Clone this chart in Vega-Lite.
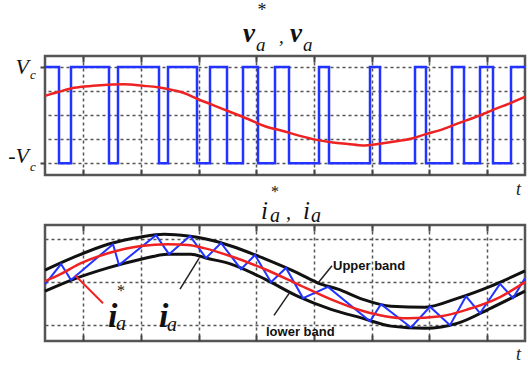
{
  "$schema": "https://vega.github.io/schema/vega-lite/v6.json",
  "background": "white",
  "padding": {"left": 6, "top": 0, "right": 0, "bottom": 0},
  "bounds": "flush",
  "spacing": 50,
  "config": {
    "view": {"stroke": "#555555", "strokeWidth": 2.5}
  },
  "datasets": {
    "pwm": [
      {"t": 0, "v": 1}, {"t": 14, "v": -1}, {"t": 26, "v": 1}, {"t": 64, "v": -1},
      {"t": 73, "v": 1}, {"t": 114, "v": -1}, {"t": 123, "v": 1}, {"t": 152, "v": -1},
      {"t": 165, "v": 1}, {"t": 182, "v": -1}, {"t": 198, "v": 1}, {"t": 213, "v": -1},
      {"t": 230, "v": 1}, {"t": 244, "v": -1}, {"t": 274, "v": 1}, {"t": 284, "v": -1},
      {"t": 325, "v": 1}, {"t": 335, "v": -1}, {"t": 370, "v": 1}, {"t": 381, "v": -1},
      {"t": 407, "v": 1}, {"t": 419, "v": -1}, {"t": 435, "v": 1}, {"t": 448, "v": -1},
      {"t": 466, "v": 1}, {"t": 480, "v": 1}
    ],
    "vref": [
      {"t": 0, "v": 0.40}, {"t": 13, "v": 0.48}, {"t": 29, "v": 0.57}, {"t": 48, "v": 0.61},
      {"t": 63, "v": 0.63}, {"t": 79, "v": 0.64}, {"t": 98, "v": 0.61}, {"t": 113, "v": 0.58},
      {"t": 128, "v": 0.52}, {"t": 139, "v": 0.46}, {"t": 153, "v": 0.33}, {"t": 168, "v": 0.21},
      {"t": 186, "v": 0.06}, {"t": 203, "v": -0.08}, {"t": 220, "v": -0.23}, {"t": 238, "v": -0.33},
      {"t": 253, "v": -0.42}, {"t": 273, "v": -0.52}, {"t": 288, "v": -0.57}, {"t": 303, "v": -0.60},
      {"t": 318, "v": -0.63}, {"t": 333, "v": -0.60}, {"t": 353, "v": -0.54}, {"t": 368, "v": -0.48},
      {"t": 380, "v": -0.40}, {"t": 398, "v": -0.29}, {"t": 413, "v": -0.17}, {"t": 428, "v": -0.06},
      {"t": 440, "v": 0.04}, {"t": 453, "v": 0.15}, {"t": 463, "v": 0.23}, {"t": 480, "v": 0.38}
    ],
    "iref": [
      {"t": 0, "i": 0.02}, {"t": 16, "i": 0.19}, {"t": 36, "i": 0.44}, {"t": 63, "i": 0.67},
      {"t": 96, "i": 0.84}, {"t": 123, "i": 0.88}, {"t": 143, "i": 0.86}, {"t": 159, "i": 0.79},
      {"t": 186, "i": 0.60}, {"t": 220, "i": 0.30}, {"t": 253, "i": -0.05}, {"t": 286, "i": -0.40},
      {"t": 318, "i": -0.67}, {"t": 340, "i": -0.79}, {"t": 363, "i": -0.84}, {"t": 396, "i": -0.79},
      {"t": 423, "i": -0.63}, {"t": 453, "i": -0.37}, {"t": 480, "i": 0.00}
    ],
    "upper": [
      {"t": 0, "i": 0.28}, {"t": 29, "i": 0.58}, {"t": 63, "i": 0.88}, {"t": 96, "i": 1.05},
      {"t": 119, "i": 1.11}, {"t": 143, "i": 1.07}, {"t": 161, "i": 1.00}, {"t": 186, "i": 0.84},
      {"t": 220, "i": 0.54}, {"t": 253, "i": 0.21}, {"t": 273, "i": -0.02}, {"t": 293, "i": -0.16},
      {"t": 318, "i": -0.40}, {"t": 346, "i": -0.56}, {"t": 380, "i": -0.58}, {"t": 413, "i": -0.37},
      {"t": 446, "i": -0.09}, {"t": 480, "i": 0.26}
    ],
    "lower": [
      {"t": 0, "i": -0.21}, {"t": 29, "i": 0.07}, {"t": 63, "i": 0.33}, {"t": 96, "i": 0.53},
      {"t": 123, "i": 0.65}, {"t": 146, "i": 0.65}, {"t": 161, "i": 0.56}, {"t": 186, "i": 0.42},
      {"t": 220, "i": 0.07}, {"t": 253, "i": -0.33}, {"t": 286, "i": -0.63}, {"t": 318, "i": -0.84},
      {"t": 346, "i": -1.02}, {"t": 380, "i": -1.07}, {"t": 413, "i": -0.95}, {"t": 446, "i": -0.60},
      {"t": 480, "i": -0.21}
    ],
    "ia": [
      {"t": 0, "i": -0.05}, {"t": 16, "i": 0.42}, {"t": 26, "i": 0.05}, {"t": 68, "i": 0.88},
      {"t": 74, "i": 0.40}, {"t": 111, "i": 1.09}, {"t": 124, "i": 0.65}, {"t": 145, "i": 1.07},
      {"t": 161, "i": 0.56}, {"t": 176, "i": 0.91}, {"t": 196, "i": 0.30}, {"t": 210, "i": 0.63},
      {"t": 226, "i": 0.0}, {"t": 241, "i": 0.33}, {"t": 258, "i": -0.37}, {"t": 283, "i": -0.11},
      {"t": 325, "i": -0.91}, {"t": 336, "i": -0.51}, {"t": 366, "i": -1.05}, {"t": 385, "i": -0.57},
      {"t": 405, "i": -1.0}, {"t": 421, "i": -0.33}, {"t": 435, "i": -0.72}, {"t": 455, "i": -0.04},
      {"t": 468, "i": -0.37}, {"t": 480, "i": 0.09}
    ]
  },
  "vconcat": [
    {
      "width": 480,
      "height": 119,
      "resolve": {"axis": {"x": "independent", "y": "independent"}},
      "layer": [
        {
          "data": {"name": "pwm"},
          "mark": {"type": "line", "interpolate": "step-after", "color": "#2233ff", "strokeWidth": 2.5},
          "encoding": {
            "x": {"field": "t", "type": "quantitative", "scale": {"domain": [0, 480], "nice": false, "zero": false},
              "axis": {"orient": "bottom", "values": [38, 96, 154, 211, 269, 327, 384, 442], "grid": true,
                "gridDash": [3, 3], "gridColor": "#555555", "gridWidth": 1.5, "gridOpacity": 1,
                "ticks": true, "tickSize": -6, "tickWidth": 2, "tickColor": "#444444",
                "labels": false, "domain": false, "title": "t", "titleFont": "Liberation Serif",
                "titleFontStyle": "italic", "titleFontWeight": "normal", "titleFontSize": 18, "titleColor": "#222222",
                "titleX": 473, "titleY": 19, "titleBaseline": "alphabetic", "titleAlign": "center", "titleAngle": 0}},
            "y": {"field": "v", "type": "quantitative", "scale": {"domain": [-1.245, 1.23], "nice": false, "zero": false},
              "axis": {"orient": "left", "values": [1, -1], "grid": false, "labels": false, "domain": false,
                "ticks": true, "tickSize": 5, "tickWidth": 2, "tickColor": "#444444", "title": null}}
          }
        },
        {
          "data": {"name": "vref"},
          "mark": {"type": "line", "interpolate": "monotone", "color": "#ee2222", "strokeWidth": 2.5},
          "encoding": {
            "x": {"field": "t", "type": "quantitative", "scale": {"domain": [0, 480], "nice": false, "zero": false},
              "axis": {"orient": "top", "values": [38, 96, 154, 211, 269, 327, 384, 442], "grid": false,
                "ticks": true, "tickSize": -6, "tickWidth": 2, "tickColor": "#444444",
                "labels": false, "domain": false, "title": null}},
            "y": {"field": "v", "type": "quantitative", "scale": {"domain": [-1.245, 1.23], "nice": false, "zero": false},
              "axis": {"orient": "right", "values": [1, 0.5, 0, -0.5, -1], "grid": true, "gridDash": [3, 3],
                "gridColor": "#555555", "gridWidth": 1.5, "gridOpacity": 1, "ticks": false, "labels": false,
                "domain": false, "title": null}}
          }
        },
        {
          "data": {"values": [{"x": 198, "y": 1.52, "s": "v"}, {"x": 245, "y": 1.52, "s": "v"}]},
          "mark": {"type": "text", "font": "Liberation Serif", "color": "#111111", "fontStyle": "italic", "fontWeight": "bold", "fontSize": 27, "align": "left", "baseline": "alphabetic"},
          "encoding": {
            "x": {"field": "x", "type": "quantitative", "scale": {"domain": [0, 480], "nice": false, "zero": false}, "axis": null},
            "y": {"field": "y", "type": "quantitative", "scale": {"domain": [-1.245, 1.23], "nice": false, "zero": false}, "axis": null},
            "text": {"field": "s"}
          }
        },
        {
          "data": {"values": [{"x": 211, "y": 1.33, "s": "a"}, {"x": 258, "y": 1.33, "s": "a"}, {"x": 234, "y": 1.5, "s": ","}]},
          "mark": {"type": "text", "font": "Liberation Serif", "color": "#111111", "fontStyle": "italic", "fontSize": 19, "align": "left", "baseline": "alphabetic"},
          "encoding": {
            "x": {"field": "x", "type": "quantitative", "scale": {"domain": [0, 480], "nice": false, "zero": false}, "axis": null},
            "y": {"field": "y", "type": "quantitative", "scale": {"domain": [-1.245, 1.23], "nice": false, "zero": false}, "axis": null},
            "text": {"field": "s"}
          }
        },
        {
          "data": {"values": [{"x": 217, "y": 2.17, "s": "*"}]},
          "mark": {"type": "text", "font": "Liberation Serif", "color": "#111111", "fontSize": 18, "align": "center", "baseline": "middle"},
          "encoding": {
            "x": {"field": "x", "type": "quantitative", "scale": {"domain": [0, 480], "nice": false, "zero": false}, "axis": null},
            "y": {"field": "y", "type": "quantitative", "scale": {"domain": [-1.245, 1.23], "nice": false, "zero": false}, "axis": null},
            "text": {"field": "s"}
          }
        },
        {
          "data": {"values": [{"x": -16, "y": 1.0, "s": "V"}, {"x": -16, "y": -0.84, "s": "-V"}]},
          "mark": {"type": "text", "font": "Liberation Serif", "color": "#111111", "fontStyle": "italic", "fontSize": 22, "align": "right", "baseline": "middle"},
          "encoding": {
            "x": {"field": "x", "type": "quantitative", "scale": {"domain": [0, 480], "nice": false, "zero": false}, "axis": null},
            "y": {"field": "y", "type": "quantitative", "scale": {"domain": [-1.245, 1.23], "nice": false, "zero": false}, "axis": null},
            "text": {"field": "s"}
          }
        },
        {
          "data": {"values": [{"x": -15, "y": 0.84, "s": "c"}, {"x": -15, "y": -1.08, "s": "c"}]},
          "mark": {"type": "text", "font": "Liberation Serif", "color": "#111111", "fontStyle": "italic", "fontSize": 13, "align": "left", "baseline": "middle"},
          "encoding": {
            "x": {"field": "x", "type": "quantitative", "scale": {"domain": [0, 480], "nice": false, "zero": false}, "axis": null},
            "y": {"field": "y", "type": "quantitative", "scale": {"domain": [-1.245, 1.23], "nice": false, "zero": false}, "axis": null},
            "text": {"field": "s"}
          }
        }
      ]
    },
    {
      "width": 480,
      "height": 116,
      "resolve": {"axis": {"x": "independent", "y": "independent"}},
      "layer": [
        {
          "data": {"name": "upper"},
          "mark": {"type": "line", "interpolate": "monotone", "color": "#111111", "strokeWidth": 3},
          "encoding": {
            "x": {"field": "t", "type": "quantitative", "scale": {"domain": [0, 480], "nice": false, "zero": false},
              "axis": {"orient": "bottom", "values": [38, 96, 154, 211, 269, 327, 384, 442], "grid": true,
                "gridDash": [3, 3], "gridColor": "#555555", "gridWidth": 1.5, "gridOpacity": 1,
                "ticks": true, "tickSize": -6, "tickWidth": 2, "tickColor": "#444444",
                "labels": false, "domain": false, "title": "t", "titleFont": "Liberation Serif",
                "titleFontStyle": "italic", "titleFontWeight": "normal", "titleFontSize": 18, "titleColor": "#222222",
                "titleX": 473, "titleY": 18, "titleBaseline": "alphabetic", "titleAlign": "center", "titleAngle": 0}},
            "y": {"field": "i", "type": "quantitative", "scale": {"domain": [-1.365, 1.326], "nice": false, "zero": false},
              "axis": {"orient": "left", "values": [1, 0, -1], "grid": true, "gridDash": [3, 3],
                "gridColor": "#555555", "gridWidth": 1.5, "gridOpacity": 1, "ticks": false, "labels": false,
                "domain": false, "title": null}}
          }
        },
        {
          "data": {"name": "lower"},
          "mark": {"type": "line", "interpolate": "monotone", "color": "#111111", "strokeWidth": 3},
          "encoding": {
            "x": {"field": "t", "type": "quantitative", "scale": {"domain": [0, 480], "nice": false, "zero": false},
              "axis": {"orient": "top", "values": [38, 96, 154, 211, 269, 327, 384, 442], "grid": false,
                "ticks": true, "tickSize": -6, "tickWidth": 2, "tickColor": "#444444",
                "labels": false, "domain": false, "title": null}},
            "y": {"field": "i", "type": "quantitative", "scale": {"domain": [-1.365, 1.326], "nice": false, "zero": false}, "axis": null}
          }
        },
        {
          "data": {"name": "ia"},
          "mark": {"type": "line", "interpolate": "linear", "color": "#2233ff", "strokeWidth": 2},
          "encoding": {
            "x": {"field": "t", "type": "quantitative", "scale": {"domain": [0, 480], "nice": false, "zero": false}, "axis": null},
            "y": {"field": "i", "type": "quantitative", "scale": {"domain": [-1.365, 1.326], "nice": false, "zero": false}, "axis": null}
          }
        },
        {
          "data": {"name": "iref"},
          "mark": {"type": "line", "interpolate": "monotone", "color": "#ee2222", "strokeWidth": 2.5},
          "encoding": {
            "x": {"field": "t", "type": "quantitative", "scale": {"domain": [0, 480], "nice": false, "zero": false}, "axis": null},
            "y": {"field": "i", "type": "quantitative", "scale": {"domain": [-1.365, 1.326], "nice": false, "zero": false}, "axis": null}
          }
        },
        {
          "data": {"values": [{"x": 273, "y": -0.02, "x2": 287, "y2": 0.38}, {"x": 229, "y": -0.77, "x2": 245, "y2": -0.23}, {"x": 135, "y": -0.16, "x2": 154, "y2": 0.55}]},
          "mark": {"type": "rule", "color": "#222222", "strokeWidth": 1.5},
          "encoding": {
            "x": {"field": "x", "type": "quantitative", "scale": {"domain": [0, 480], "nice": false, "zero": false}, "axis": null},
            "y": {"field": "y", "type": "quantitative", "scale": {"domain": [-1.365, 1.326], "nice": false, "zero": false}, "axis": null},
            "x2": {"field": "x2"},
            "y2": {"field": "y2"}
          }
        },
        {
          "data": {"values": [{"x": 58, "y": -0.49, "x2": 30, "y2": 0.16}]},
          "mark": {"type": "rule", "color": "#ee2222", "strokeWidth": 2},
          "encoding": {
            "x": {"field": "x", "type": "quantitative", "scale": {"domain": [0, 480], "nice": false, "zero": false}, "axis": null},
            "y": {"field": "y", "type": "quantitative", "scale": {"domain": [-1.365, 1.326], "nice": false, "zero": false}, "axis": null},
            "x2": {"field": "x2"},
            "y2": {"field": "y2"}
          }
        },
        {
          "data": {"values": [{"x": 288, "y": 0.37, "s": "Upper band"}, {"x": 221, "y": -1.16, "s": "lower band"}]},
          "mark": {"type": "text", "font": "Liberation Sans", "color": "#111111", "fontWeight": "bold", "fontSize": 13, "align": "left", "baseline": "middle"},
          "encoding": {
            "x": {"field": "x", "type": "quantitative", "scale": {"domain": [0, 480], "nice": false, "zero": false}, "axis": null},
            "y": {"field": "y", "type": "quantitative", "scale": {"domain": [-1.365, 1.326], "nice": false, "zero": false}, "axis": null},
            "text": {"field": "s"}
          }
        },
        {
          "data": {"values": [{"x": 216, "y": 1.465, "s": "i"}, {"x": 258, "y": 1.465, "s": "i"}]},
          "mark": {"type": "text", "font": "Liberation Serif", "color": "#111111", "fontStyle": "italic", "fontSize": 25, "align": "left", "baseline": "alphabetic"},
          "encoding": {
            "x": {"field": "x", "type": "quantitative", "scale": {"domain": [0, 480], "nice": false, "zero": false}, "axis": null},
            "y": {"field": "y", "type": "quantitative", "scale": {"domain": [-1.365, 1.326], "nice": false, "zero": false}, "axis": null},
            "text": {"field": "s"}
          }
        },
        {
          "data": {"values": [{"x": 225, "y": 1.39, "s": "a"}, {"x": 266, "y": 1.39, "s": "a"}, {"x": 241, "y": 1.465, "s": ","}]},
          "mark": {"type": "text", "font": "Liberation Serif", "color": "#111111", "fontStyle": "italic", "fontSize": 20, "align": "left", "baseline": "alphabetic"},
          "encoding": {
            "x": {"field": "x", "type": "quantitative", "scale": {"domain": [0, 480], "nice": false, "zero": false}, "axis": null},
            "y": {"field": "y", "type": "quantitative", "scale": {"domain": [-1.365, 1.326], "nice": false, "zero": false}, "axis": null},
            "text": {"field": "s"}
          }
        },
        {
          "data": {"values": [{"x": 230, "y": 2.1, "s": "*"}, {"x": 76, "y": -0.2, "s": "*"}]},
          "mark": {"type": "text", "font": "Liberation Serif", "color": "#111111", "fontSize": 16, "align": "center", "baseline": "middle"},
          "encoding": {
            "x": {"field": "x", "type": "quantitative", "scale": {"domain": [0, 480], "nice": false, "zero": false}, "axis": null},
            "y": {"field": "y", "type": "quantitative", "scale": {"domain": [-1.365, 1.326], "nice": false, "zero": false}, "axis": null},
            "text": {"field": "s"}
          }
        },
        {
          "data": {"values": [{"x": 63, "y": -1.047, "s": "i"}, {"x": 114, "y": -1.047, "s": "i"}]},
          "mark": {"type": "text", "font": "Liberation Serif", "color": "#111111", "fontStyle": "italic", "fontWeight": "bold", "fontSize": 34, "align": "left", "baseline": "alphabetic"},
          "encoding": {
            "x": {"field": "x", "type": "quantitative", "scale": {"domain": [0, 480], "nice": false, "zero": false}, "axis": null},
            "y": {"field": "y", "type": "quantitative", "scale": {"domain": [-1.365, 1.326], "nice": false, "zero": false}, "axis": null},
            "text": {"field": "s"}
          }
        },
        {
          "data": {"values": [{"x": 71, "y": -1.12, "s": "a"}, {"x": 122, "y": -1.14, "s": "a"}]},
          "mark": {"type": "text", "font": "Liberation Serif", "color": "#111111", "fontStyle": "italic", "fontSize": 20, "align": "left", "baseline": "alphabetic"},
          "encoding": {
            "x": {"field": "x", "type": "quantitative", "scale": {"domain": [0, 480], "nice": false, "zero": false}, "axis": null},
            "y": {"field": "y", "type": "quantitative", "scale": {"domain": [-1.365, 1.326], "nice": false, "zero": false}, "axis": null},
            "text": {"field": "s"}
          }
        }
      ]
    }
  ]
}
